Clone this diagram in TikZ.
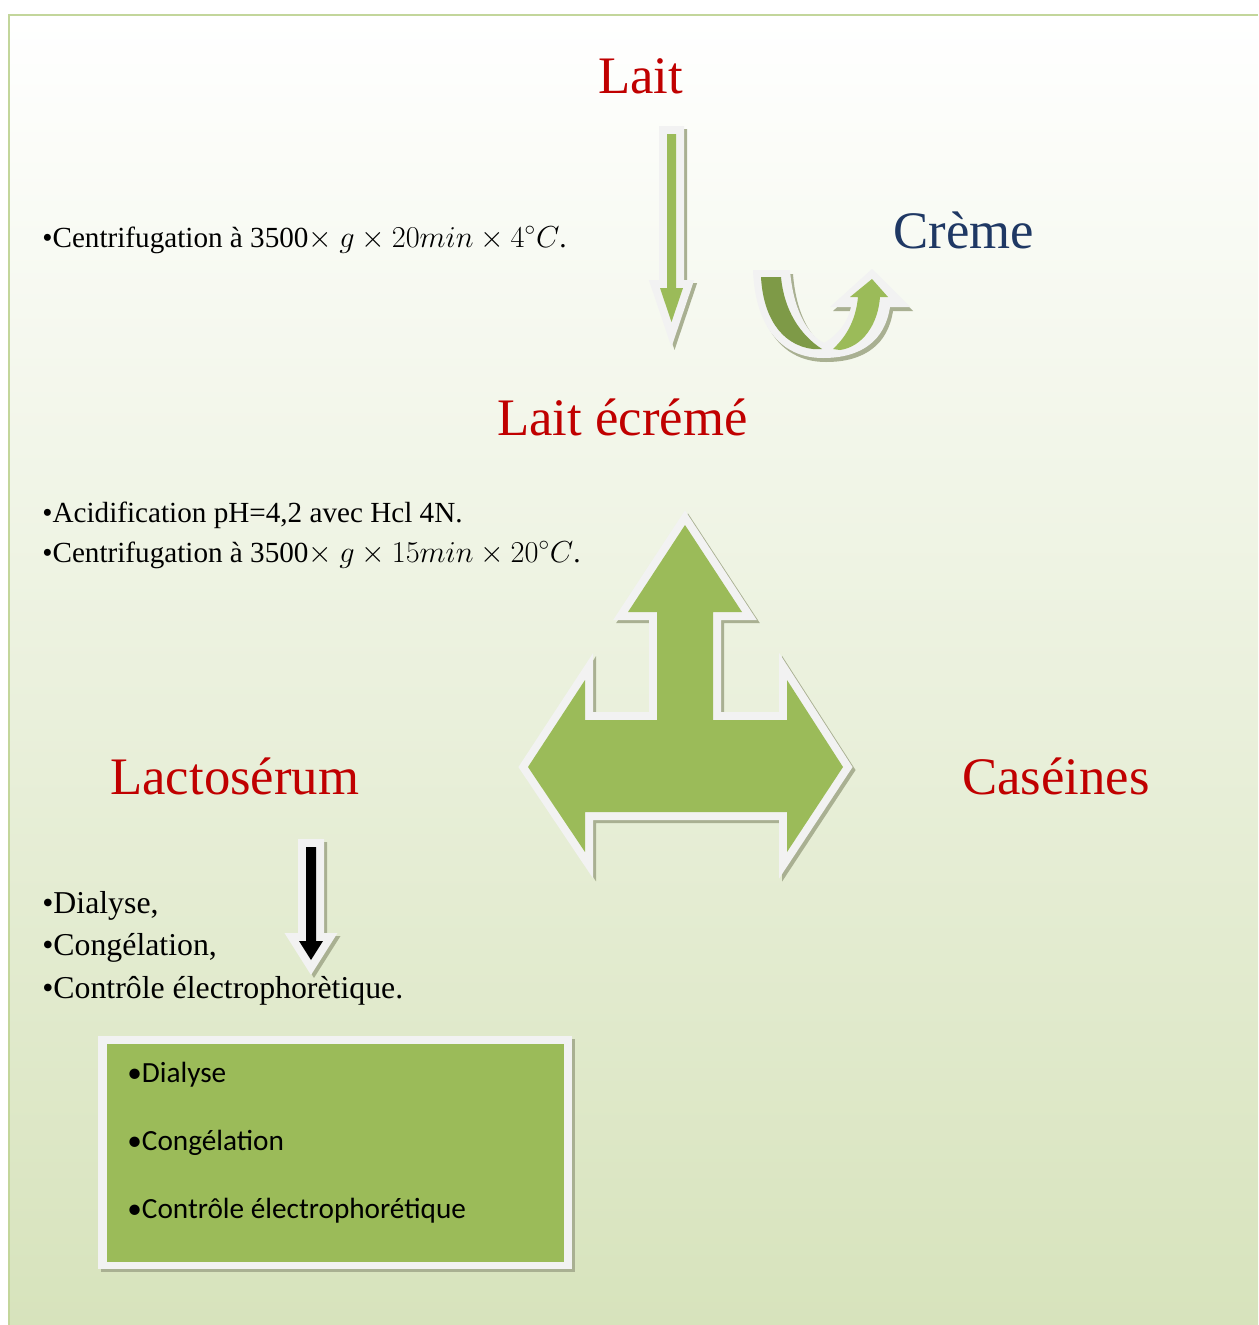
\documentclass[tikz,border=0pt]{standalone}
\usepackage{fontspec}
\setmainfont{Liberation Serif}
\newfontfamily\calib{Carlito}
\definecolor{gA}{HTML}{9BBB59}
\definecolor{gD}{HTML}{7E9A47}
\definecolor{wO}{HTML}{F2F2F2}
\definecolor{shd}{HTML}{A9B092}
\definecolor{redT}{HTML}{C00000}
\definecolor{blueT}{HTML}{1F3864}
\definecolor{frameC}{HTML}{C3D69B}
\definecolor{bgB}{HTML}{D7E3BC}
\tikzset{
  whiteout/.style={draw=wO, fill=wO, line width=0.32cm, line join=miter, miter limit=20},
  shadowout/.style={draw=shd, fill=shd, line width=0.32cm, line join=miter, miter limit=20, shift={(3,3)}},
  greenfill/.style={fill=gA, draw=none},
  bigred/.style={anchor=base west, inner sep=0, text=redT, font=\fontsize{30}{36}\selectfont},
  bigblue/.style={anchor=base west, inner sep=0, text=blueT, font=\fontsize{30}{36}\selectfont},
  smalltxt/.style={anchor=base west, inner sep=0, font=\fontsize{16.6}{20}\selectfont},
  listtxt/.style={anchor=base west, inner sep=0, font=\fontsize{18.1}{22}\selectfont},
  boxtxt/.style={anchor=base west, inner sep=0, font=\calib\fontsize{16.65}{20}\selectfont},
}
\begin{document}
\begin{tikzpicture}[x=0.02cm,y=-0.02cm]
\useasboundingbox (0,0) rectangle (1258,1325);
\fill[white] (0,0) rectangle (1258,1325);
\shade[top color=white, bottom color=bgB] (9,15) rectangle (1258,1325);
\draw[frameC, line width=0.04cm] (9,1325) -- (9,15) -- (1258,15);

% texts
\node[bigred] (lait) at (598,93) {Lait};
\node[bigblue] (creme) at (893,248) {Crème};
\node[bigred] (ecreme) at (497,435) {Lait écrémé};
\node[bigred] (lacto) at (110,794) {Lactosérum};
\node[bigred] (caseines) at (962,794) {Caséines};

\node[smalltxt] (t1) at (42,247) {•Centrifugation à 3500$\times$ $g\times 20min \times 4^{\circ}C$.};
\node[smalltxt] (t2) at (42,522) {•Acidification pH=4,2 avec Hcl 4N.};
\node[smalltxt] (t3) at (42,562) {•Centrifugation à 3500$\times$ $g\times 15min \times 20^{\circ}C$.};

\node[listtxt] (l1) at (42,913) {•Dialyse,};
\node[listtxt] (l2) at (42,955) {•Congélation,};
\node[listtxt] (l3) at (42,998) {•Contrôle électrophorètique.};

% green down arrow
\def\downarrow{(667,134) -- (676,134) -- (676,288) -- (683,288) -- (671.5,322) -- (660,288) -- (667,288) -- cycle}
\path[shadowout] \downarrow;
\path[whiteout] \downarrow;
\path[greenfill] \downarrow;

% U-turn arrow
\def\uturn{(753,270) -- (790,270) .. controls (793,310) and (808,335) .. (824,343) .. controls (838,335) and (848,322) .. (851,307) -- (830,307) -- (872,269) -- (910,307) -- (890,307) .. controls (885,340) and (862,358) .. (823,358) .. controls (780,358) and (755,325) .. (753,270) -- cycle}
\fill[shd, shift={(3,4)}] \uturn;
\fill[wO] \uturn;
\fill[gD] (761,277) -- (781,277) .. controls (784,310) and (800,335) .. (822,349) -- (813,349) .. controls (780,345) and (763,315) .. (761,277) -- cycle;
\fill[gA] (833,349) .. controls (848,335) and (856,318) .. (858,297) -- (850,297) -- (872,279) -- (888,297) -- (880,297) .. controls (878,325) and (862,347) .. (840,350) -- cycle;

% big three-way arrow
\def\triarrow{(685,525) -- (742,612) -- (713,612) -- (713,720) -- (787,720) -- (787,680) -- (843,767) -- (787,852) -- (787,812) -- (585,812) -- (585,852) -- (528,767) -- (585,680) -- (585,720) -- (657,720) -- (657,612) -- (628,612) -- cycle}
\path[shadowout] \triarrow;
\path[whiteout] \triarrow;
\path[greenfill] \triarrow;

% black down arrow
\def\blackarrow{(306,847) -- (316,847) -- (316,941) -- (323,941) -- (311,960) -- (299,941) -- (306,941) -- cycle}
\path[shadowout] \blackarrow;
\path[whiteout] \blackarrow;
\fill[black] \blackarrow;

% box
\fill[shd] (101,1039) rectangle (575,1272);
\fill[wO] (98,1036) rectangle (572,1269);
\fill[gA] (107,1044) rectangle (564,1262);
\node[boxtxt] (b1) at (127,1082) {•Dialyse};
\node[boxtxt] (b2) at (127,1150) {•Congélation};
\node[boxtxt] (b3) at (127,1218) {•Contrôle électrophorétique};
\end{tikzpicture}
\end{document}
